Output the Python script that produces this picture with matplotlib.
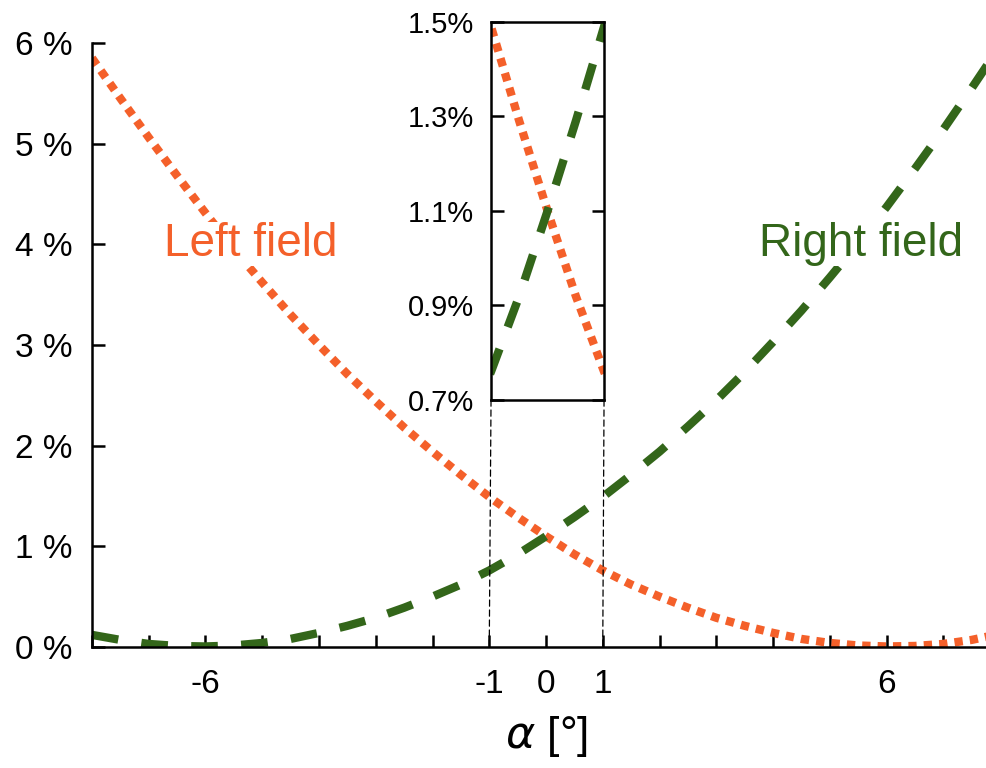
"""Relative error of left and right field vs. angle alpha, with zoomed inset around 0."""
import matplotlib
matplotlib.use("Agg")
import matplotlib.pyplot as plt
from matplotlib.patches import ConnectionPatch

plt.rcParams['font.family'] = ['Liberation Sans', 'DejaVu Sans']

alpha = [-8, -7.5, -7, -6.5, -6, -5.5, -5, -4.5, -4, -3.5, -3, -2.5, -2, -1.5, -1, -0.5,
         0, 0.5, 1, 1.5, 2, 2.5, 3, 3.5, 4, 4.5, 5, 5.5, 6, 6.5, 7, 7.5, 8]
left_field = [5.85, 5.45, 5.06, 4.68, 4.31, 3.95, 3.62, 3.30, 3.00, 2.71, 2.44, 2.18, 1.94, 1.71, 1.49, 1.29,
              1.10, 0.92, 0.76, 0.62, 0.50, 0.39, 0.29, 0.21, 0.14, 0.08, 0.04, 0.015, 0.005, 0.01, 0.03, 0.07, 0.13]
right_field = [0.12, 0.07, 0.03, 0.01, 0.005, 0.015, 0.04, 0.08, 0.14, 0.21, 0.29, 0.39, 0.50, 0.62, 0.76, 0.92,
               1.10, 1.29, 1.49, 1.71, 1.94, 2.19, 2.45, 2.73, 3.03, 3.34, 3.67, 4.01, 4.37, 4.75, 5.14, 5.55, 5.97]

y_ticks = [0, 1, 2, 3, 4, 5, 6]
x_ticks = list(range(-8, 9))
x_labelled = [-6, -1, 0, 1, 6]
inset_ticks = [0.7, 0.9, 1.1, 1.3, 1.5]

orange = "#f4602a"
green = "#33661a"

fig = plt.figure(figsize=(9.87, 7.68), dpi=100)
ax = fig.add_axes([0.0932, 0.1576, 0.920, 0.7865])

ax.plot(alpha, left_field, color=orange, lw=6, dashes=(1, 0.85))
ax.plot(alpha, right_field, color=green, lw=6, dashes=(3.2, 2.8))

ax.set_xlim(-8, 8)
ax.set_ylim(0, 6)
ax.spines['top'].set_visible(False)
ax.spines['right'].set_visible(False)
ax.spines['left'].set_linewidth(1.8)
ax.spines['bottom'].set_linewidth(1.8)
ax.set_yticks(y_ticks)
ax.set_yticklabels([f"{t} %" for t in y_ticks])
ax.set_xticks(x_ticks)
ax.set_xticklabels([str(t) if t in x_labelled else "" for t in x_ticks])
ax.tick_params(direction='in', length=9, width=1.8, labelsize=24, pad=14)
ax.tick_params(axis='x', pad=16)
ax.set_xlabel(r"$\alpha$ [°]", fontsize=32, labelpad=10)

box = dict(facecolor='white', edgecolor='none', pad=0)
ax.text(-5.2, 4.0, "Left field", color=orange, fontsize=33, ha='center', va='center', bbox=box)
ax.text(5.55, 4.0, "Right field", color=green, fontsize=33, ha='center', va='center', bbox=box)

axins = fig.add_axes([0.4975, 0.4792, 0.1145, 0.4922])
axins.plot(alpha, left_field, color=orange, lw=6, dashes=(1, 0.85))
axins.plot(alpha, right_field, color=green, lw=6, dashes=(3.2, 2.8))
axins.set_xlim(-1, 1)
axins.set_ylim(0.7, 1.5)
axins.set_xticks([])
axins.set_yticks(inset_ticks)
axins.set_yticklabels([f"{t:.1f}%" for t in inset_ticks])
axins.tick_params(direction='in', length=9, width=1.8, labelsize=21, pad=12, right=True)
for spine in axins.spines.values():
    spine.set_linewidth(1.8)

for x in (-1, 1):
    con = ConnectionPatch(xyA=(x, 0.7), coordsA=axins.transData, xyB=(x, 0), coordsB=ax.transData,
                          color='black', lw=0.9, linestyle=(0, (5, 3)))
    fig.add_artist(con)

fig.savefig("out.png", dpi=100)
